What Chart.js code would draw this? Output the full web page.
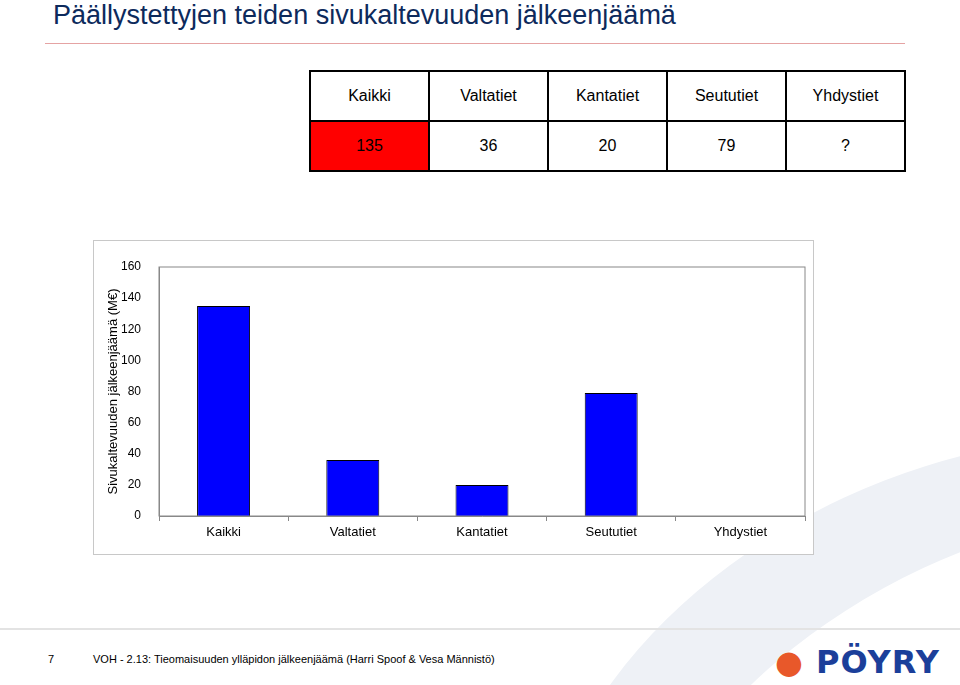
<!DOCTYPE html>
<html>
<head>
<meta charset="utf-8">
<script src="https://cdn.jsdelivr.net/npm/chart.js@4/dist/chart.umd.min.js"></script>
<style>
  body { margin: 0; width: 960px; height: 685px; position: relative; background: #fff; font-family: "Liberation Sans", Arial, sans-serif; overflow: hidden; }
  .swoosh { position: absolute; left: 520px; top: 470px; width: 900px; height: 600px; border-radius: 50%; background: #eef1f6; transform: rotate(-25deg); }
  .swoosh2 { position: absolute; left: 600px; top: 540px; width: 900px; height: 600px; border-radius: 50%; background: #fff; transform: rotate(-25deg); }
  h1 { position: absolute; left: 53px; top: 0; margin: 0; font-weight: normal; font-size: 27px; color: #0d2a5c; }
  .rule { position: absolute; left: 45px; top: 43px; width: 860px; height: 1px; background: #e5a3a3; }
  table { position: absolute; left: 309px; top: 70px; border-collapse: collapse; font-size: 16px; }
  td { border: 2px solid #000; width: 117px; text-align: center; height: 48px; padding: 0; background: #fff; }
  td.red { background: #ff0000; }
  .box { position: absolute; left: 93px; top: 240px; width: 719px; height: 313px; border: 1px solid #c8c8c8; background: #fff; }
  .foot { position: absolute; left: 0; top: 628px; width: 960px; height: 2px; background: #e3e3e3; }
  .ft { position: absolute; top: 653px; font-size: 11px; color: #000; }
  .logo { position: absolute; left: 775px; top: 643px; font: bold 32px "DejaVu Sans", sans-serif; color: #1b3f9a; letter-spacing: 1px; }
</style>
</head>
<body>
<div class="swoosh"></div><div class="swoosh2"></div>
<h1>Päällystettyjen teiden sivukaltevuuden jälkeenjäämä</h1>
<div class="rule"></div>
<table>
  <tr><td>Kaikki</td><td>Valtatiet</td><td>Kantatiet</td><td>Seututiet</td><td>Yhdystiet</td></tr>
  <tr><td class="red">135</td><td>36</td><td>20</td><td>79</td><td>?</td></tr>
</table>
<div class="box"><canvas id="c" width="719" height="313"></canvas></div>
<div class="foot"></div>
<div class="ft" style="left:48px">7</div>
<div class="ft" style="left:93px">VOH - 2.13: Tieomaisuuden ylläpidon jälkeenjäämä (Harri Spoof &amp; Vesa Männistö)</div>
<div class="logo"><span style="color:#e8582a">●</span> PÖYRY</div>
<script>
const categories = ['Kaikki', 'Valtatiet', 'Kantatiet', 'Seututiet', 'Yhdystiet'];
const values = [135, 36, 20, 79, null];
const yTicks = [0, 20, 40, 60, 80, 100, 120, 140, 160];

Chart.defaults.font.family = '"Liberation Sans", Arial, sans-serif';
Chart.defaults.color = '#000';

new Chart(document.getElementById('c'), {
    type: 'bar',
    data: {
        labels: categories,
        datasets: [{
            data: values,
            backgroundColor: '#0000ff',
            borderColor: '#000',
            borderWidth: 1,
            barPercentage: 0.41,
            categoryPercentage: 1.0
        }]
    },
    options: {
        responsive: false,
        animation: false,
        layout: { padding: { top: 26, right: 8, left: 10, bottom: 0 } },
        plugins: { legend: { display: false }, tooltip: { enabled: false } },
        scales: {
            x: {
                grid: { display: true, drawOnChartArea: false, offset: true, color: '#888', tickLength: 5 },
                border: { color: '#888' },
                ticks: { font: { size: 13 }, padding: 4 },
                afterFit: s => { s.height = 38; }
            },
            y: {
                min: 0, max: 160,
                afterBuildTicks: s => { s.ticks = yTicks.map(v => ({ value: v })); },
                grid: { display: false },
                border: { color: '#888' },
                ticks: { font: { size: 12 }, padding: 10 },
                title: { display: true, text: 'Sivukaltevuuden jälkeenjäämä (M€)', font: { size: 13 }, padding: 2 },
                afterFit: s => { s.width = 55; }
            }
        }
    },
    plugins: [{
        id: 'frame',
        afterDraw(chart) {
            const a = chart.chartArea, g = chart.ctx;
            g.save();
            g.strokeStyle = '#888';
            g.lineWidth = 1;
            g.strokeRect(a.left, a.top, a.right - a.left, a.bottom - a.top);
            g.restore();
        }
    }]
});
</script>
</body>
</html>
